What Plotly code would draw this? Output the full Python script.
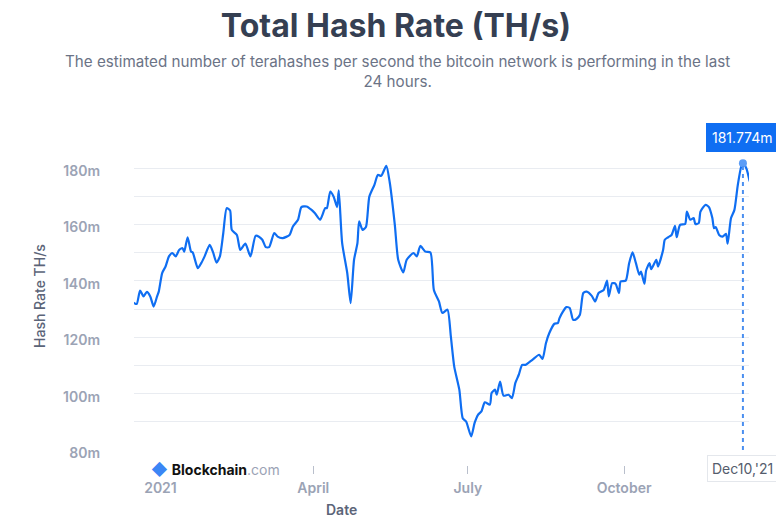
import plotly.graph_objects as go

# Total hash rate, millions of TH/s
dates = [
    "2020-12-16", "2020-12-18", "2020-12-20", "2020-12-22", "2020-12-24", "2020-12-26",
    "2020-12-28", "2020-12-30", "2020-12-31", "2021-01-02", "2021-01-04", "2021-01-06",
    "2021-01-08", "2021-01-10", "2021-01-12", "2021-01-14", "2021-01-15", "2021-01-17",
    "2021-01-19", "2021-01-20", "2021-01-23", "2021-01-25", "2021-01-27", "2021-01-30",
    "2021-02-01", "2021-02-03", "2021-02-05", "2021-02-07", "2021-02-09", "2021-02-11",
    "2021-02-12", "2021-02-15", "2021-02-17", "2021-02-20", "2021-02-23", "2021-02-26",
    "2021-02-28", "2021-03-02", "2021-03-04", "2021-03-06", "2021-03-09", "2021-03-11",
    "2021-03-14", "2021-03-18", "2021-03-20", "2021-03-23", "2021-03-25", "2021-03-28",
    "2021-03-31", "2021-04-02", "2021-04-05", "2021-04-08", "2021-04-09", "2021-04-11",
    "2021-04-13", "2021-04-15", "2021-04-16", "2021-04-18", "2021-04-21", "2021-04-23",
    "2021-04-25", "2021-04-27", "2021-04-28", "2021-04-30", "2021-05-02", "2021-05-04",
    "2021-05-07", "2021-05-09", "2021-05-11", "2021-05-14", "2021-05-16", "2021-05-19",
    "2021-05-21", "2021-05-24", "2021-05-26", "2021-05-30", "2021-06-01", "2021-06-03",
    "2021-06-06", "2021-06-09", "2021-06-11", "2021-06-14", "2021-06-16", "2021-06-19",
    "2021-06-21", "2021-06-23", "2021-06-26", "2021-06-28", "2021-06-30", "2021-07-03",
    "2021-07-05", "2021-07-07", "2021-07-09", "2021-07-11", "2021-07-14", "2021-07-15",
    "2021-07-17", "2021-07-18", "2021-07-20", "2021-07-22", "2021-07-25", "2021-07-27",
    "2021-07-29", "2021-07-31", "2021-08-02", "2021-08-04", "2021-08-08", "2021-08-12",
    "2021-08-14", "2021-08-16", "2021-08-18", "2021-08-21", "2021-08-23", "2021-08-24",
    "2021-08-26", "2021-08-28", "2021-08-30", "2021-09-01", "2021-09-03", "2021-09-05",
    "2021-09-07", "2021-09-09", "2021-09-12", "2021-09-14", "2021-09-16", "2021-09-19",
    "2021-09-21", "2021-09-22", "2021-09-24", "2021-09-26", "2021-09-28", "2021-09-29",
    "2021-10-02", "2021-10-04", "2021-10-06", "2021-10-08", "2021-10-10", "2021-10-11",
    "2021-10-13", "2021-10-14", "2021-10-16", "2021-10-17", "2021-10-20", "2021-10-21",
    "2021-10-24", "2021-10-25", "2021-10-27", "2021-10-29", "2021-10-31", "2021-11-01",
    "2021-11-03", "2021-11-06", "2021-11-07", "2021-11-09", "2021-11-11", "2021-11-12",
    "2021-11-14", "2021-11-15", "2021-11-18", "2021-11-20", "2021-11-22", "2021-11-23",
    "2021-11-24", "2021-11-26", "2021-11-28", "2021-11-30", "2021-12-01", "2021-12-03",
    "2021-12-05", "2021-12-07", "2021-12-09", "2021-12-10", "2021-12-12", "2021-12-14",
]
hash_rate = [
    132.3, 131.8, 136.6, 134.5, 136.1, 134.5,
    130.9, 134.5, 136.2, 142.8, 145.1, 148.7,
    149.9, 148.7, 151.0, 151.6, 150.4, 155.5,
    150.4, 150.1, 144.5, 146.3, 148.7, 152.8,
    150.1, 146.5, 148.7, 157.0, 165.8, 165.0,
    158.1, 156.3, 151.0, 153.2, 148.7, 156.0,
    155.7, 154.6, 152.0, 152.0, 157.0, 155.7,
    155.2, 156.3, 159.3, 161.7, 166.2, 166.4,
    165.2, 164.0, 161.7, 165.8, 165.8, 171.7,
    169.9, 166.2, 172.1, 153.4, 142.8, 132.1,
    147.5, 153.4, 161.1, 158.1, 159.1, 169.9,
    174.1, 177.6, 177.3, 180.8, 175.0, 160.0,
    147.5, 143.0, 147.5, 149.9, 148.7, 152.4,
    150.4, 150.1, 136.8, 132.7, 128.6, 129.8,
    120.3, 109.6, 101.4, 91.3, 90.1, 84.8,
    89.6, 92.5, 93.7, 96.9, 96.1, 100.2,
    101.4, 99.6, 104.3, 99.3, 99.6, 98.4,
    103.8, 106.7, 110.2, 110.2, 112.0, 113.8,
    112.3, 117.9, 121.5, 124.8, 125.0, 126.8,
    129.1, 130.7, 130.4, 126.2, 126.5, 128.0,
    135.7, 136.2, 134.7, 132.7, 135.7, 136.8,
    140.1, 134.5, 139.2, 139.0, 135.7, 139.8,
    140.1, 146.3, 150.1, 146.3, 142.2, 143.3,
    139.0, 143.7, 146.3, 144.2, 147.5, 145.1,
    151.0, 154.6, 155.5, 156.3, 159.5, 155.5,
    159.9, 160.2, 164.6, 161.7, 162.3, 160.2,
    160.5, 164.6, 167.0, 166.2, 162.3, 158.7,
    159.1, 156.3, 155.7, 156.7, 153.2, 162.3,
    165.2, 174.1, 180.6, 181.774, 180.0, 175.3,
]

tick_dates = ["2021-01-01", "2021-04-01", "2021-07-01", "2021-10-01"]
tick_text = ["2021", "April", "July", "October"]
y_ticks = [80, 100, 120, 140, 160, 180]
y_tick_text = ["80m", "100m", "120m", "140m", "160m", "180m"]

hover_date = "2021-12-10"
hover_value = 181.774
hover_text = "181.774m"
hover_label = "Dec10,'21"

LINE = "#0f6ef2"
GRID = "#e9ecf1"
TICK = "#9ba3b5"
DARK = "#353f52"
AXIS_TITLE = "#5b6478"
FONT = "Inter"

fig = go.Figure()
fig.add_trace(go.Scatter(
    x=dates, y=hash_rate, mode="lines",
    line=dict(color=LINE, width=2.2, shape="spline", smoothing=0.6),
    hoverinfo="skip",
))
fig.add_trace(go.Scatter(
    x=[hover_date], y=[hover_value], mode="markers",
    marker=dict(color="#5b9cf6", size=8),
    hoverinfo="skip", cliponaxis=False,
))

# dotted crosshair at the hovered day
fig.add_shape(type="line", xref="x", yref="y", x0=hover_date, x1=hover_date,
              y0=80, y1=hover_value, line=dict(color="#4a8ff0", width=2, dash="4px,4px"))
fig.add_shape(type="line", xref="x", yref="paper", x0=hover_date, x1=hover_date,
              y0=1.0, y1=1.03, line=dict(color="#4a8ff0", width=2, dash="4px,4px"))

annotations = [
    dict(text="The estimated number of terahashes per second the bitcoin network is performing in the last<br>24 hours.",
         x=0.4285, y=1.211, xref="paper", yref="paper", xanchor="center", yanchor="middle",
         showarrow=False, font=dict(family=FONT, size=15.2, color="#6b7386")),
    dict(text="Hash Rate TH/s", textangle=-90, x=-0.1545, y=0.52, xref="paper", yref="paper",
         xanchor="center", yanchor="middle", showarrow=False,
         font=dict(family=FONT, size=14, color=AXIS_TITLE, weight=500)),
    dict(text="Date", x=0.338, y=-0.138, xref="paper", yref="paper",
         xanchor="center", yanchor="middle", showarrow=False,
         font=dict(family=FONT, size=14, color=AXIS_TITLE, weight=600)),
    dict(text="<span style='color:#3b86f5;font-size:16px'>◆</span> <b>Blockchain</b><span style='color:#9ba3b5'>.com</span>",
         x=0.024, y=-0.0123, xref="paper", yref="paper", xanchor="left", yanchor="middle",
         showarrow=False, bgcolor="white", borderpad=1,
         font=dict(family=FONT, size=14, color="#111111")),
    dict(text=hover_text, x=hover_date, y=1.009, xref="x", yref="paper",
         xanchor="center", yanchor="middle", showarrow=False,
         bgcolor="#0f6ef2", bordercolor="#0f6ef2", borderpad=5,
         font=dict(family=FONT, size=14, color="white")),
    dict(text=hover_label, x=hover_date, y=-0.0095, xref="x", yref="paper",
         xanchor="center", yanchor="middle", showarrow=False,
         bgcolor="white", bordercolor="#e4e7ec", borderwidth=1, borderpad=4,
         font=dict(family=FONT, size=14, color="#555d6d")),
]

# the page body keeps its 8px default margin, so the figure is 8px smaller
fig.update_layout(
    width=776, height=523,
    margin=dict(l=126, r=35, t=132, b=66),
    paper_bgcolor="white", plot_bgcolor="white",
    showlegend=False,
    font=dict(family=FONT),
    title=dict(text="<b>Total Hash Rate (TH/s)</b>", x=0.5, xanchor="center",
               y=0.9656, yanchor="middle", xref="container", yref="container",
               font=dict(family=FONT, size=32, color=DARK)),
    annotations=annotations,
    xaxis=dict(
        type="date", range=["2020-12-16 10:00", "2021-12-13 14:00"],
        anchor="free", position=0,
        tickvals=tick_dates, ticktext=tick_text,
        ticks="outside", ticklen=8, tickwidth=1, tickcolor="#b9bfcc",
        ticklabelstandoff=2,
        showgrid=False, zeroline=False, showline=False,
        tickfont=dict(family=FONT, size=14, color=TICK, weight=600),
    ),
    yaxis=dict(
        range=[80, 190], domain=[0.04615, 1],
        tickvals=y_ticks, ticktext=y_tick_text,
        showgrid=True, gridcolor=GRID, gridwidth=1,
        minor=dict(dtick=10, tick0=80, showgrid=True, gridcolor=GRID, gridwidth=1),
        zeroline=False, showline=False, ticks="",
        ticklabelstandoff=33, ticklabelshift=3,
        tickfont=dict(family=FONT, size=14, color=TICK, weight=600),
    ),
)

fig.write_html("out.html")
